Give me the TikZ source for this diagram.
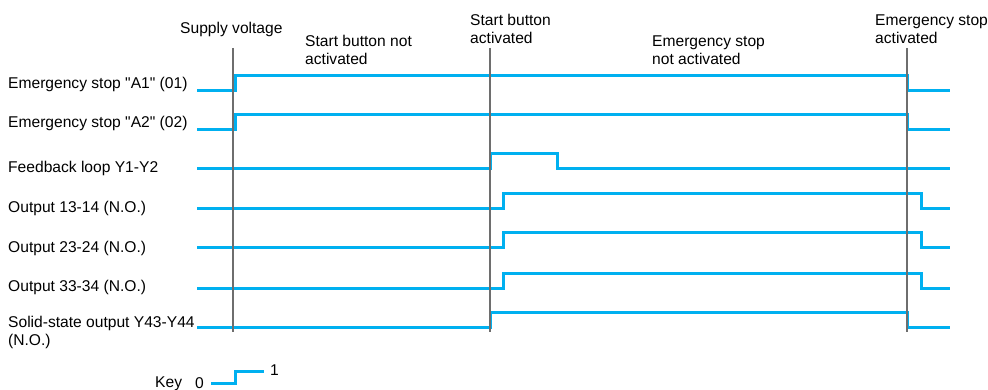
\documentclass[tikz,border=0pt]{standalone}
\usepackage{fontspec}
\setmainfont{Liberation Sans}
\definecolor{sigblue}{HTML}{00B0F0}
\definecolor{evgrey}{HTML}{6E6E6E}
\tikzset{
  lbl/.style={anchor=base west, inner sep=0pt, align=left},
  sig/.style={sigblue, line width=3pt},
  evline/.style={evgrey, line width=1.3pt}
}
\begin{document}
\begin{tikzpicture}[x=1pt, y=-1pt, font=\fontsize{15.6}{18}\selectfont]
    \useasboundingbox (0,0) rectangle (988,390);

    % multi-line labels sit on their last line
    \node[lbl] at (180, 34)  (supply)   {Supply voltage};
    \node[lbl] at (305, 65)  (nostart)  {Start button not\\activated};
    \node[lbl] at (470, 44)  (start)    {Start button\\activated};
    \node[lbl] at (652, 65)  (esoff)    {Emergency stop\\not activated};
    \node[lbl] at (875, 44)  (eson)     {Emergency stop\\activated};

    \node[lbl] at (8, 89)   (es1) {Emergency stop \textquotedbl A1\textquotedbl{} (01)};
    \node[lbl] at (8, 128)  (es2) {Emergency stop \textquotedbl A2\textquotedbl{} (02)};
    \node[lbl] at (8, 173)  (fb)  {Feedback loop Y1-Y2};
    \node[lbl] at (8, 213)  (o13) {Output 13-14 (N.O.)};
    \node[lbl] at (8, 252)  (o23) {Output 23-24 (N.O.)};
    \node[lbl] at (8, 291)  (o33) {Output 33-34 (N.O.)};
    \node[lbl] at (8, 345)  (ss)  {Solid-state output Y43-Y44\\(N.O.)};

    % signals: low level / rising edge / falling edge
    \foreach \lo/\up/\dn in {91/235/907, 130/235/907, 169/490/557,
                             209/503/921, 248/503/921, 288/503/921, 327/490/907}
    \draw[sig] (197,\lo) -- (\up,\lo) -- (\up,\lo-15) -- (\dn,\lo-15) -- (\dn,\lo) -- (950,\lo);

    \foreach \x in {233, 490, 907}
    \draw[evline] (\x, 48) -- (\x, 332);

    \node[lbl] at (155, 387) (key) {Key};
    \node[lbl] at (195, 388) (k0)  {0};
    \node[lbl] at (270, 375) (k1)  {1};
    \draw[sig] (211,383) -- (235,383) -- (235,371) -- (264,371);
\end{tikzpicture}
\end{document}
